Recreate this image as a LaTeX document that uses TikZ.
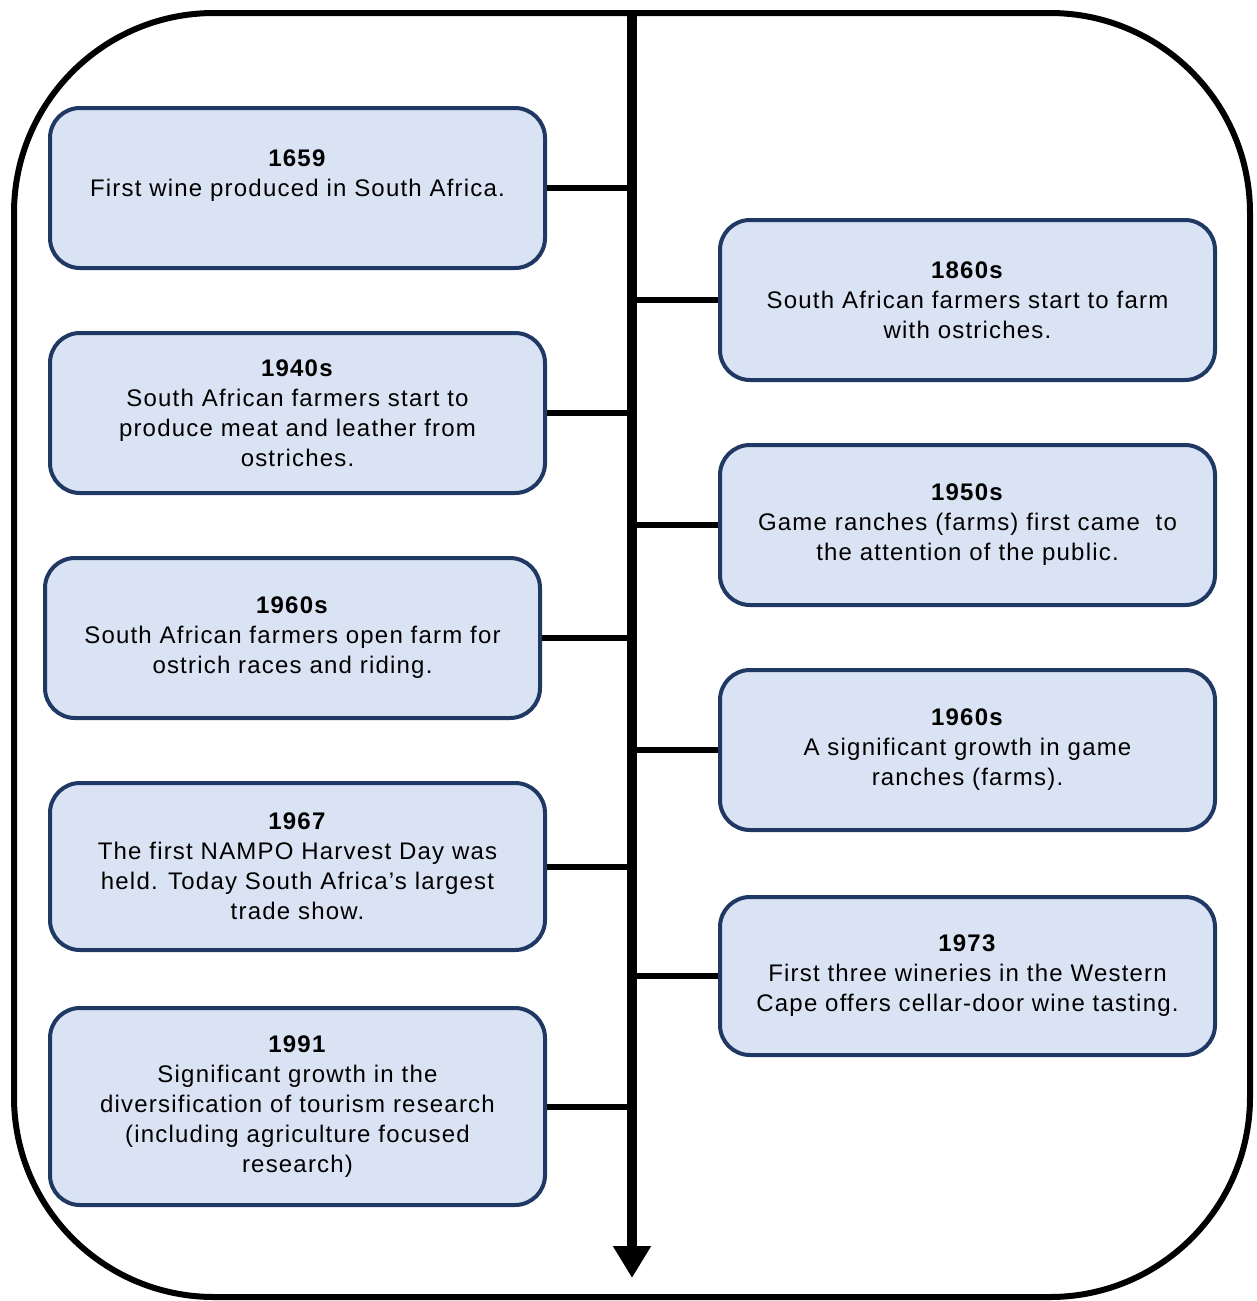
\documentclass[tikz,border=0pt]{standalone}
\usepackage{fontspec}
\setmainfont{Liberation Sans}[LetterSpace=5]
\usetikzlibrary{arrows.meta}
\definecolor{boxfill}{RGB}{218,227,243}
\definecolor{boxline}{RGB}{31,56,100}
\tikzset{
  event/.style={draw=boxline,fill=boxfill,line width=2pt,rounded corners=15pt,
    minimum width=247.5pt,minimum height=80pt,align=center,
    font=\fontsize{12}{15}\selectfont,inner sep=2pt},
  branch/.style={line width=3pt}
}
\begin{document}
\begin{tikzpicture}[x=0.5pt,y=-0.5pt,>={Triangle[width=18pt,length=16pt]}]
\useasboundingbox (0,0) rectangle (1257,1301);
\draw[line width=3pt,rounded corners=100pt] (14,13) rectangle (1250,1297);
\coordinate (top) at (632,13);
\coordinate (end) at (632,1278);
\draw[->,line width=5pt] (top) -- (end);
% left side
\node[event] (e1) at (297.5,188) {\textbf{1659}\\First wine produced in South Africa.\\ \mbox{}};
\node[event] (e2) at (297.5,413) {\textbf{1940s}\\South African farmers start to\\produce meat and leather from\\ostriches.};
\node[event] (e3) at (292.5,638) {\textbf{1960s}\\South African farmers open farm for\\ostrich races and riding.};
\node[event,minimum height=83.5pt] (e4) at (297.5,866.5) {\textbf{1967}\\The first NAMPO Harvest Day was\\held. Today South Africa’s largest\\trade show.};
\node[event,minimum height=98.5pt] (e5) at (297.5,1106.5) {\textbf{1991}\\Significant growth in the\\diversification of tourism research\\(including agriculture focused\\research)};
% right side
\node[event] (r1) at (967.5,300) {\textbf{1860s}\\South African farmers start to farm\\with ostriches.};
\node[event] (r2) at (967.5,525) {\textbf{1950s}\\Game ranches (farms) first came~ to\\the attention of the public.};
\node[event] (r3) at (967.5,750) {\textbf{1960s}\\A significant growth in game\\ranches (farms).};
\node[event,minimum height=79pt] (r4) at (967.5,976) {\textbf{1973}\\First three wineries in the Western\\Cape offers cellar-door wine tasting.};
\foreach \n in {e1,e2,e3,e4,e5} \draw[branch] (\n.east) -- (\n.east -| top);
\foreach \n in {r1,r2,r3,r4} \draw[branch] (\n.west) -- (\n.west -| top);
\end{tikzpicture}
\end{document}
